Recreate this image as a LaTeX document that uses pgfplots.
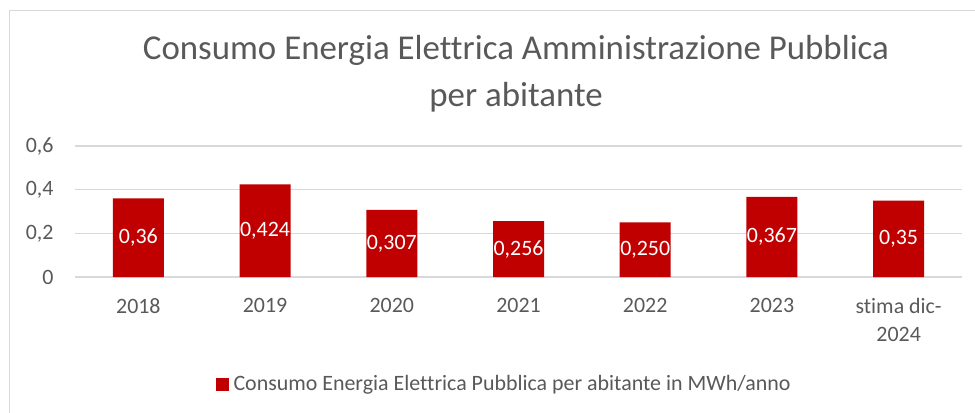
\documentclass[border=0pt]{standalone}
\usepackage{pgfplots}
\pgfplotsset{compat=1.18}
\usepackage{fontspec}
\setmainfont{Carlito}[Ligatures=NoCommon]
\definecolor{barred}{HTML}{C00000}
\definecolor{txtgray}{HTML}{595959}
\definecolor{gridgray}{HTML}{D9D9D9}

\begin{document}
\begin{tikzpicture}
% axis box lower-left corner sits at (0,0); everything else is placed relative to it
\useasboundingbox (-75bp,-136bp) rectangle (900bp,277bp);
% chart frame (only top and left edges are visible in the reference)
\draw[gridgray, line width=1.2bp] (-65.5bp,-136bp) -- (-65.5bp,266.5bp) -- (900bp,266.5bp);

\node[txtgray, font=\fontsize{35}{40}\selectfont] at (441bp,227bp) {Consumo Energia Elettrica Amministrazione Pubblica};
\node[txtgray, font=\fontsize{35}{40}\selectfont] at (441bp,180bp) {per abitante};

\begin{axis}[
    at={(0,0)}, anchor=south west,
    scale only axis,
    width=887bp, height=131bp,
    xmin=-0.5, xmax=6.5,
    ymin=0, ymax=0.6,
    ytick={0,0.2,0.4,0.6},
    xtick={0,...,6},
    xticklabels={2018,2019,2020,2021,2022,2023,{stima dic-\\2024}},
    xticklabel style={align=center, font=\fontsize{22}{28}\selectfont, text=txtgray, yshift=-18bp},
    yticklabel style={font=\fontsize{22}{26}\selectfont, text=txtgray, xshift=-18bp},
    /pgf/number format/assume math mode=true,
    /pgf/number format/use comma,
    /pgf/number format/fixed,
    axis line style={draw=none},
    major tick length=0pt,
    ymajorgrids,
    major grid style={gridgray, line width=1.2bp},
    legend style={at={(0.4837,-0.817)}, anchor=center, draw=none,
        font=\fontsize{22}{26}\selectfont, text=txtgray},
    legend image code/.code={\fill[barred] (0bp,-6.5bp) rectangle (13bp,6.5bp);},
]
\addplot[ybar, bar width=51bp, fill=barred, draw=none] coordinates {
    (0,0.36) (1,0.424) (2,0.307) (3,0.256) (4,0.250) (5,0.367) (6,0.35)
};
\addlegendentry{\hspace{3bp}Consumo Energia Elettrica Pubblica per abitante in MWh/anno}
\addplot[draw=none, mark=none, forget plot,
    nodes near coords, point meta=explicit symbolic,
    every node near coord/.style={anchor=center, text=white, font=\fontsize{22}{26}\selectfont}]
    coordinates {
    (0,0.180) [0,36]
    (1,0.212) [0,424]
    (2,0.1535) [0,307]
    (3,0.128) [0,256]
    (4,0.125) [0,250]
    (5,0.1835) [0,367]
    (6,0.175) [0,35]
};
\end{axis}
\end{tikzpicture}
\end{document}
